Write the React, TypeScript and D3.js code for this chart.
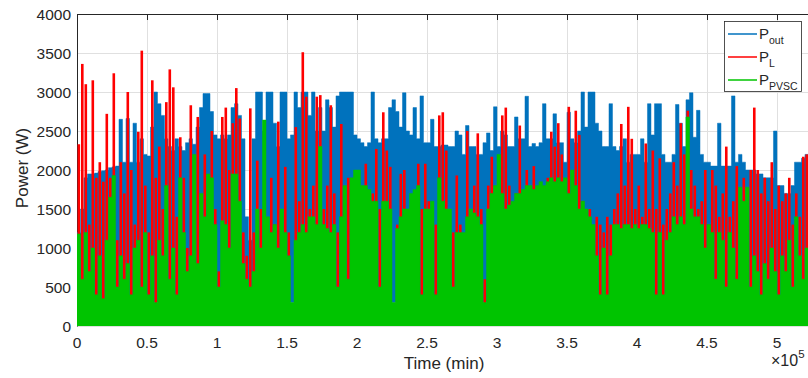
import { useEffect, useRef } from "react";
import * as d3 from "d3";

// time between successive samples, in units of 10^5 min
const SAMPLE_STEP = 0.025;

// peak values (W), one per sample
const pOut = [
  1200, 1500, 1900, 1950, 1950, 1960, 1980, 1990, 2000, 2030, 2040, 2050, 2650, 2100, 2660, 2100, 2600, 2100, 2400, 2200,
  2180, 2550, 3000, 2850, 2700, 2400, 2300, 2250, 2400, 2300, 2250, 2350, 2400, 2330, 2550, 2800,
  2980, 2980, 2750, 2450, 2400, 2450, 2400, 2450, 2800, 2850, 2700, 2400, 1400, 1100, 2400, 3000, 3000, 2500, 3000, 3000,
  2600, 2300, 3000, 3000, 2400, 2450, 3000, 2800, 3000, 3000, 2700, 3000, 2500, 2800,
  2500, 2900, 2800, 2550, 2950, 3000, 3000, 3000, 3000, 2450, 2400, 2350, 2300, 2350, 3000, 2400, 2350, 2400, 2400, 2800,
  2900, 2750, 2550, 2990, 2500, 2450, 2800, 2400, 2950, 2350, 2350, 2650, 2300, 2300,
  2320, 2320, 2300, 2300, 2500, 2450, 2200, 2570, 2300, 2300, 2200, 2200, 2350, 2475, 2250, 2810, 2300, 2500, 2450, 2300,
  2300, 2680, 2400, 2400, 2945, 2300, 2340, 2300, 2350, 2850, 2400, 2400, 2720, 2350, 2350,
  2100, 2740, 2400, 2350, 2500, 3000, 2550, 3000, 3000, 2600, 2500, 2300, 2300, 2850, 2300, 2250, 2300, 2400, 2100, 2200,
  2200, 2200, 2400, 2100, 2850, 2450, 2850, 2850, 2200, 2100, 2100, 2200, 2840, 2600,
  2300, 2900, 2990, 2420, 2765, 2200, 2100, 2100, 2050, 2050, 2600, 2050, 2050, 2050, 2950, 2100, 2200, 2100, 2000, 2000,
  2000, 1950, 1950, 1900, 1900, 1900, 2500, 1800, 1800, 1700, 1700, 1800, 2100, 2100, 2150, 2200, 2200, 2100,
];

const pL = [
  2330, 3360, 3100, 1300, 3150, 1900, 2100, 1850, 2720, 1900, 3240, 1100, 2100, 1700, 3000, 2000, 1300, 2490, 3530, 1800,
  1200, 3150, 1900, 2300, 1500, 2870, 3290, 3060, 1400, 2420, 1900, 1000, 2830, 1800, 2680, 1500,
  2200, 1900, 2500, 1500, 700, 2680, 2800, 2000, 2600, 3050, 2660, 1200, 900, 2790, 1200, 2120, 1500, 1300, 1000, 1900,
  1300, 2620, 1400, 2040, 1200, 250, 2550, 1600, 3510, 2940, 1500, 1800, 2940, 2960,
  1500, 1800, 2830, 1700, 1200, 2590, 1500, 1900, 1300, 1000, 1500, 1200, 2080, 1400, 1700, 2270, 1500, 2740, 2250, 2040,
  250, 1300, 1950, 2000, 1400, 1000, 1200, 2080, 1500, 2080, 1600, 1200, 1300, 2700,
  2740, 2250, 1400, 1200, 1930, 1300, 1100, 2500, 1400, 1800, 2470, 1500, 600, 1800, 2170, 1500, 1400, 2700, 2800, 1800,
  1500, 1700, 2570, 1600, 2000, 1500, 2050, 1400, 1800, 1500, 1900, 2490, 2300, 2600, 2200,
  1600, 2810, 1800, 2760, 2450, 1600, 1300, 1500, 1200, 1400, 1300, 1200, 1400, 1300, 1500, 1700, 2590, 1800, 2810, 2400,
  1500, 1800, 1400, 2340, 1500, 2250, 1500, 2150, 1300, 1500, 1700, 2100, 1800, 2600,
  2200, 2760, 2000, 1800, 1500, 1600, 2000, 1300, 2000, 1800, 1400, 1700, 2300, 1400, 1600, 2050, 1500, 1900, 1400, 2000,
  2800, 2000, 1700, 1900, 1600, 2100, 1500, 1800, 1600, 1700, 1900, 1300, 1700, 1400, 2170, 2200, 1500, 1600,
];

const pPVSC = [
  1180, 600, 1200, 700, 1000, 400, 900, 350, 1100, 1650, 1930, 500, 900, 600, 800, 400, 1000, 1100, 500, 1200,
  400, 900, 300, 1100, 900, 1800, 600, 1000, 400, 1900, 1200, 700, 900, 2200, 800, 1700,
  1400, 1950, 1900, 1300, 500, 1350, 1300, 1000, 1950, 1950, 1600, 800, 600, 500, 700, 1500, 1000, 2640, 1400, 1200,
  1300, 1000, 1500, 1200, 900, 300, 1100, 1200, 1300, 1200, 1400, 1400, 1300, 2300,
  1300, 1250, 1200, 1300, 500, 1400, 1800, 600, 1900, 2000, 2000, 1800, 1800, 1750, 1600, 1600, 500, 1600, 1600, 1500,
  300, 1250, 1400, 1500, 1500, 1700, 1750, 1800, 400, 1500, 1500, 1600, 400, 1900,
  1600, 1500, 1500, 500, 1200, 1200, 1200, 1400, 1500, 1450, 1400, 1300, 300, 1500, 1700, 1800, 2200, 1700, 1500, 1550,
  1600, 1700, 1700, 1750, 1800, 1800, 1750, 1800, 1850, 1800, 1850, 1900, 1850, 1900, 1850,
  1900, 1700, 2000, 1800, 1500, 1600, 1500, 1400, 1300, 900, 400, 1000, 400, 900, 1300, 1300, 1250, 1300, 1300, 1250,
  1300, 1250, 1300, 1300, 1250, 1200, 400, 1200, 400, 1100, 1200, 1400, 1300, 1400,
  1300, 2680, 1500, 1400, 1400, 1300, 1000, 1300, 1200, 600, 1200, 1100, 500, 1200, 1000, 600, 1780, 1600, 1780, 500,
  900, 700, 400, 800, 600, 1000, 700, 400, 900, 700, 1100, 500, 1400, 900, 600, 1000, 1400, 1200,
];

// level each series falls back to between peaks (W)
const pOutTrough = 300;
const pLTrough = 260;
const pPVSCTrough = 0;

const xTicks = [0, 0.5, 1, 1.5, 2, 2.5, 3, 3.5, 4, 4.5, 5];
const yTicks = [0, 500, 1000, 1500, 2000, 2500, 3000, 3500, 4000];
const X_MAX = 5.243;

const BLUE = "#0072BD";
const RED = "#FF0000";
const GREEN = "#00C400";
const AXIS = "#262626";
const FONT = "'Liberation Sans', Arial, Helvetica, sans-serif";

export default function App() {
  const ref = useRef<SVGSVGElement>(null);

  useEffect(() => {
    if (!ref.current) return;
    const width = 808;
    const height = 378;
    const plot = { left: 77, right: 811, top: 14, bottom: 326 };

    const svg = d3.select(ref.current);
    svg.selectAll("*").remove();
    svg.attr("width", width).attr("height", height);

    const x = d3.scaleLinear().domain([0, X_MAX]).range([plot.left, plot.right]);
    const y = d3.scaleLinear().domain([0, 4000]).range([plot.bottom, plot.top]);
    const colW = x(SAMPLE_STEP) - x(0);

    svg
      .append("defs")
      .append("clipPath")
      .attr("id", "plot-clip")
      .append("rect")
      .attr("x", plot.left)
      .attr("y", plot.top)
      .attr("width", plot.right - plot.left)
      .attr("height", plot.bottom - plot.top);

    // gridlines
    const grid = svg.append("g").attr("stroke", "#e0e0e0").attr("stroke-width", 1);
    grid
      .selectAll("line.h")
      .data(yTicks)
      .join("line")
      .attr("x1", plot.left)
      .attr("x2", plot.right)
      .attr("y1", (d) => Math.round(y(d)) + 0.5)
      .attr("y2", (d) => Math.round(y(d)) + 0.5);
    grid
      .selectAll("line.v")
      .data(xTicks)
      .join("line")
      .attr("x1", (d) => Math.round(x(d)) + 0.5)
      .attr("x2", (d) => Math.round(x(d)) + 0.5)
      .attr("y1", plot.top)
      .attr("y2", plot.bottom);

    // axes box (under the data, as in the original figure)
    const axes = svg.append("g").attr("stroke", AXIS).attr("stroke-width", 1).attr("fill", "none");
    axes
      .append("path")
      .attr("d", `M${plot.left + 0.5},${plot.bottom + 0.5}V${plot.top + 0.5}H${plot.right}`);
    axes
      .selectAll("line.tt")
      .data(xTicks)
      .join("line")
      .attr("x1", (d) => Math.round(x(d)) + 0.5)
      .attr("x2", (d) => Math.round(x(d)) + 0.5)
      .attr("y1", plot.top)
      .attr("y2", plot.top + 6);

    const data = svg.append("g").attr("clip-path", "url(#plot-clip)");

    // P_out and P_PVSC swing so fast that each sample fills its column
    const stepArea = (trough: number) =>
      d3
        .area<number>()
        .x((_, i) => x(i * SAMPLE_STEP))
        .y0(y(trough))
        .y1((d) => y(d))
        .curve(d3.curveStepAfter);

    data
      .append("path")
      .attr("d", stepArea(pOutTrough)([...pOut, pOut[pOut.length - 1]]))
      .attr("fill", BLUE)
      .attr("stroke", BLUE)
      .attr("stroke-width", 0.5);

    // P_L shows as narrower spikes
    data
      .append("g")
      .attr("fill", RED)
      .selectAll("rect")
      .data(pL)
      .join("rect")
      .attr("x", (_, i) => x(i * SAMPLE_STEP) + 0.5)
      .attr("width", colW - 0.9)
      .attr("y", (d) => y(Math.max(d, pLTrough)))
      .attr("height", (d) => y(pLTrough) - y(Math.max(d, pLTrough)));

    data
      .append("path")
      .attr("d", stepArea(pPVSCTrough)([...pPVSC, pPVSC[pPVSC.length - 1]]))
      .attr("fill", GREEN)
      .attr("stroke", GREEN)
      .attr("stroke-width", 0.5);

    // tick labels
    svg
      .append("g")
      .selectAll("text")
      .data(yTicks)
      .join("text")
      .attr("x", plot.left - 6)
      .attr("y", (d) => y(d))
      .attr("dy", "0.36em")
      .attr("text-anchor", "end")
      .attr("fill", AXIS)
      .attr("font-family", FONT)
      .attr("font-size", 15.5)
      .text((d) => `${d}`);

    svg
      .append("g")
      .selectAll("text")
      .data(xTicks)
      .join("text")
      .attr("x", (d) => x(d))
      .attr("y", 347.5)
      .attr("text-anchor", "middle")
      .attr("fill", AXIS)
      .attr("font-family", FONT)
      .attr("font-size", 15.5)
      .text((d) => `${d}`);

    // exponent note
    const expo = svg
      .append("text")
      .attr("x", 771)
      .attr("y", 366)
      .attr("fill", AXIS)
      .attr("font-family", FONT)
      .attr("font-size", 16);
    expo.append("tspan").text("\u00d710");
    expo.append("tspan").attr("dy", -8).attr("font-size", 11.5).text("5");

    // axis titles
    svg
      .append("text")
      .attr("x", 444)
      .attr("y", 369)
      .attr("text-anchor", "middle")
      .attr("fill", AXIS)
      .attr("font-family", FONT)
      .attr("font-size", 17)
      .text("Time (min)");

    svg
      .append("text")
      .attr("transform", `translate(28,168) rotate(-90)`)
      .attr("text-anchor", "middle")
      .attr("fill", AXIS)
      .attr("font-family", FONT)
      .attr("font-size", 17)
      .text("Power (W)");

    // legend
    const legend = svg.append("g");
    legend
      .append("rect")
      .attr("x", 724.5)
      .attr("y", 21.5)
      .attr("width", 77)
      .attr("height", 70)
      .attr("fill", "#fff")
      .attr("stroke", AXIS)
      .attr("stroke-width", 0.8);
    const entries = [
      { sub: "out", color: BLUE },
      { sub: "L", color: RED },
      { sub: "PVSC", color: GREEN },
    ];
    entries.forEach((e, i) => {
      const ly = 34 + i * 23;
      legend
        .append("line")
        .attr("x1", 728)
        .attr("x2", 757)
        .attr("y1", ly)
        .attr("y2", ly)
        .attr("stroke", e.color)
        .attr("stroke-width", 1.5);
      const t = legend
        .append("text")
        .attr("x", 759)
        .attr("y", ly + 5)
        .attr("fill", AXIS)
        .attr("font-family", FONT)
        .attr("font-size", 15);
      t.append("tspan").text("P");
      t.append("tspan").attr("dy", 5).attr("font-size", 10.5).text(e.sub);
    });
  }, []);

  return (
    <svg
      ref={ref}
      style={{ position: "absolute", left: 0, top: 0, background: "#fff", display: "block" }}
    />
  );
}
